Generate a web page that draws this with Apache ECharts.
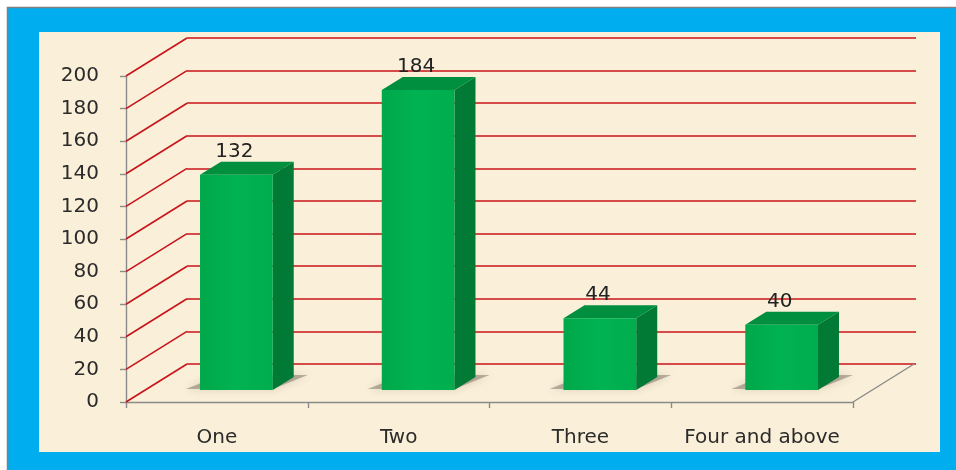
<!DOCTYPE html>
<html>
<head>
<meta charset="utf-8">
<script src="https://cdn.jsdelivr.net/npm/echarts@6/dist/echarts.min.js"></script>
<style>
  html, body { margin: 0; padding: 0; background: #ffffff; }
  #chart { width: 956px; height: 470px; }
</style>
</head>
<body>
<div id="chart"></div>
<script>
// Number of children per household
const categories = ['One', 'Two', 'Three', 'Four and above'];
const counts = [132, 184, 44, 40];
const yTicks = [0, 20, 40, 60, 80, 100, 120, 140, 160, 180, 200];

// Pseudo-3D geometry (pixel offsets)
const WALL = [61, -38];        // depth of the floor / side wall
const FACE_SHIFT = [19.5, -12]; // where the bar front face sits inside the floor
const BAR_DEPTH = [21, -13];   // depth of each bar
const BAR_RATIO = 0.4;         // bar width as share of a category band

const FONT = 'DejaVu Sans';
const GRID_RED = '#C8141B';
const AXIS_GRAY = '#8A8A8A';

const chart = echarts.init(document.getElementById('chart'), null, { renderer: 'canvas' });

function sideWall(params, api) {
  const band = api.size([1, 0])[0];
  const p = api.coord([0, api.value(1)]);
  const x0 = p[0] - band / 2;
  return {
    type: 'line',
    shape: { x1: x0, y1: p[1], x2: x0 + WALL[0], y2: p[1] + WALL[1] },
    style: { stroke: GRID_RED, lineWidth: 1.6 }
  };
}

function floorEdge(params, api) {
  const band = api.size([1, 0])[0];
  const p = api.coord([categories.length - 1, 0]);
  const x0 = p[0] + band / 2;
  return {
    type: 'line',
    shape: { x1: x0, y1: p[1], x2: x0 + WALL[0], y2: p[1] + WALL[1] },
    style: { stroke: AXIS_GRAY, lineWidth: 1.4 }
  };
}

function bar3d(params, api) {
  const idx = api.value(0);
  const val = api.value(1);
  const band = api.size([1, 0])[0];
  const base = api.coord([idx, 0]);
  const top = api.coord([idx, val]);
  const w = band * BAR_RATIO;
  const cx = base[0] + FACE_SHIFT[0];
  const fl = cx - w / 2, fr = cx + w / 2;
  const by = base[1] + FACE_SHIFT[1];
  const ty = top[1] + FACE_SHIFT[1];
  const dx = BAR_DEPTH[0], dy = BAR_DEPTH[1];

  return {
    type: 'group',
    children: [
      { // soft floor shadow
        type: 'polygon',
        shape: { points: [[fl - 14, by - 1], [fr, by - 1], [fr + dx + 14, by + dy - 2], [fl + dx, by + dy - 2]] },
        style: { fill: 'rgba(95,85,75,0.42)', shadowBlur: 8, shadowColor: 'rgba(95,85,75,0.55)' }
      },
      { // side face
        type: 'polygon',
        shape: { points: [[fr, by], [fr + dx, by + dy], [fr + dx, ty + dy], [fr, ty]] },
        style: { fill: '#007A35' }
      },
      { // top face
        type: 'polygon',
        shape: { points: [[fl, ty], [fl + dx, ty + dy], [fr + dx, ty + dy], [fr, ty]] },
        style: { fill: '#008F3E' }
      },
      { // front face
        type: 'rect',
        shape: { x: fl, y: ty, width: w, height: by - ty },
        style: {
          fill: new echarts.graphic.LinearGradient(0, 0, 1, 0, [
            { offset: 0, color: '#00A84A' },
            { offset: 0.5, color: '#00B352' },
            { offset: 1, color: '#00AD4E' }
          ])
        }
      },
      { // value label
        type: 'text',
        style: {
          text: String(val),
          x: cx - 2,
          y: ty + dy - 10,
          align: 'center',
          verticalAlign: 'middle',
          font: '20px "' + FONT + '"',
          fill: '#222222'
        }
      }
    ]
  };
}

const option = {
  animation: false,
  backgroundColor: '#ffffff',
  graphic: {
    elements: [
      {
        type: 'rect', z: -100,
        shape: { x: 7.5, y: 7.5, width: 960, height: 470 },
        style: { fill: '#00AEEF', stroke: '#808080', lineWidth: 1.5 }
      },
      {
        type: 'rect', z: -99,
        shape: { x: 39, y: 32, width: 901, height: 420 },
        style: { fill: '#FAEFD8' }
      }
    ]
  },
  grid: [
    { left: 126, top: 76, width: 727, height: 326 },   // front plane
    { left: 187, top: 38, width: 729, height: 326 }    // back wall
  ],
  xAxis: [
    {
      type: 'category', gridIndex: 0, data: categories,
      axisLine: { lineStyle: { color: AXIS_GRAY, width: 1.4 } },
      axisTick: { show: true, interval: 0, length: 6, lineStyle: { color: AXIS_GRAY, width: 1.4 } },
      axisLabel: { interval: 0, margin: 26, color: '#2b2b2b', fontFamily: FONT, fontSize: 20 }
    },
    {
      type: 'category', gridIndex: 1, data: categories, show: false
    }
  ],
  yAxis: [
    {
      type: 'value', gridIndex: 0, min: 0, max: 200, interval: 20,
      axisLine: { show: true, lineStyle: { color: AXIS_GRAY, width: 1.4 } },
      axisTick: { show: true, length: 6, lineStyle: { color: AXIS_GRAY, width: 1.4 } },
      axisLabel: { margin: 27, color: '#2b2b2b', fontFamily: FONT, fontSize: 20 },
      splitLine: { show: false }
    },
    {
      type: 'value', gridIndex: 1, min: 0, max: 200, interval: 20,
      axisLine: { show: false }, axisTick: { show: false }, axisLabel: { show: false },
      splitLine: { show: true, lineStyle: { color: GRID_RED, width: 1.6 } }
    }
  ],
  series: [
    {
      type: 'custom', xAxisIndex: 0, yAxisIndex: 0,
      data: yTicks.map(v => [0, v]),
      renderItem: sideWall, silent: true, z: 1
    },
    {
      type: 'custom', xAxisIndex: 0, yAxisIndex: 0,
      data: [[0, 0]],
      renderItem: floorEdge, silent: true, z: 1
    },
    {
      type: 'custom', xAxisIndex: 0, yAxisIndex: 0,
      data: counts.map((v, i) => [i, v]),
      renderItem: bar3d, z: 5
    }
  ]
};

chart.setOption(option);
</script>
</body>
</html>
